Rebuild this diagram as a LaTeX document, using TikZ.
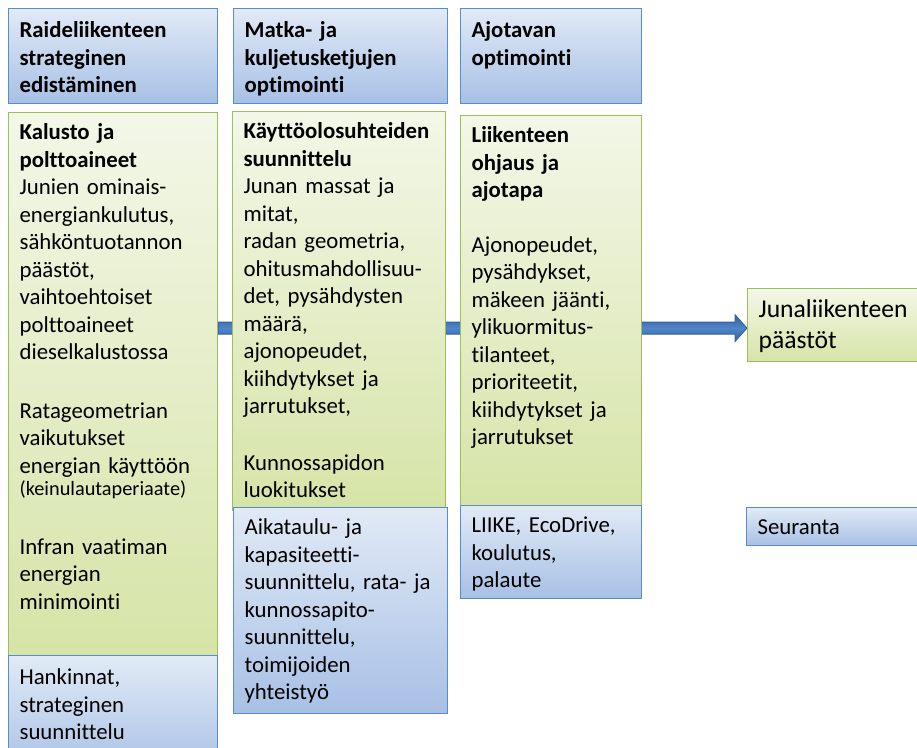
\documentclass[tikz,border=0pt]{standalone}
\usepackage{fontspec}
\setmainfont{Carlito}[Ligatures=NoCommon]
\usetikzlibrary{calc,backgrounds}

\definecolor{bluetop}{HTML}{E1EAF6}
\definecolor{bluebot}{HTML}{A7C0E5}
\definecolor{bluerim}{HTML}{5A8BCB}
\definecolor{greentop}{HTML}{F3F7E8}
\definecolor{greenbot}{HTML}{D6E4A7}
\definecolor{greenrim}{HTML}{9DBE5C}
\definecolor{arrowmid}{HTML}{4F84C8}
\definecolor{arrowedge}{HTML}{34619F}

\begin{document}
\begin{tikzpicture}[x=1pt,y=-1pt,
  box/.style={anchor=north west,align=left,inner xsep=11pt,inner ysep=0pt,
    line width=1.2pt,text height=27pt,font=\fontsize{22.8}{27.5}\selectfont},
  bluebox/.style={box,draw=bluerim,top color=bluetop,bottom color=bluebot},
  greenbox/.style={box,draw=greenrim,top color=greentop,bottom color=greenbot},
  headbox/.style={bluebox,text height=29pt,
    font=\fontsize{22.8}{27.5}\selectfont\bfseries},
  arrowbody/.style={draw=arrowedge,line width=0.8pt,top color=arrowedge,
    bottom color=arrowedge,middle color=arrowmid}]
  \useasboundingbox (0,0) rectangle (917,747);
  \clip (0,0) rectangle (917,747);

  % otsikot
  \node[headbox,text width=187pt,text depth=66pt] (h1) at (8,8)
    {Raideliikenteen\\strateginen\\edistäminen};
  \node[headbox,text width=192pt,text depth=66pt] (h2) at (233,8)
    {Matka- ja\\kuljetusketjujen\\optimointi};
  \node[headbox,text width=159pt,text depth=66pt] (h3) at (460,8)
    {Ajotavan\\optimointi};

  % tekijat
  \node[greenbox,text width=187pt,text depth=516pt] (g1) at (8,112)
    {{\bfseries Kalusto ja\\polttoaineet}\\
     Junien ominais-\\energiankulutus,\\sähköntuotannon\\päästöt,\\
     vaihtoehtoiset\\polttoaineet\\dieselkalustossa\\[31pt]
     Ratageometrian\\vaikutukset\\energian käyttöön\\[-5pt]
     {\fontsize{20.3}{22}\selectfont (keinulautaperiaate)}\\[31pt]
     Infran vaatiman\\energian\\minimointi};
  \node[greenbox,text width=191pt,text depth=372pt] (g2) at (232,111)
    {{\bfseries Käyttöolosuhteiden\\suunnittelu}\\
     Junan massat ja\\mitat,\\radan geometria,\\ohitusmahdollisuu-\\
     det, pysähdysten\\määrä,\\ajonopeudet,\\kiihdytykset ja\\
     jarrutukset,\\[29pt]
     Kunnossapidon\\luokitukset};
  \node[greenbox,text width=159pt,text depth=363pt] (g3) at (460,115)
    {{\bfseries Liikenteen\\ohjaus ja\\ajotapa}\\[27pt]
     Ajonopeudet,\\pysähdykset,\\mäkeen jäänti,\\ylikuormitus-\\
     tilanteet,\\prioriteetit,\\kiihdytykset ja\\jarrutukset};

  % keinot
  \node[bluebox,text width=187pt,text height=29pt,text depth=91pt] (b1) at (8,655)
    {Hankinnat,\\strateginen\\suunnittelu};
  \node[bluebox,text width=192pt,text depth=179pt] (b2) at (233,507)
    {Aikataulu- ja\\kapasiteetti-\\suunnittelu, rata- ja\\kunnossapito-\\
     suunnittelu,\\toimijoiden\\yhteistyö};
  \node[bluebox,text width=159pt,text depth=66pt] (b3) at (460,505)
    {LIIKE, EcoDrive,\\koulutus,\\palaute};

  % tulos
  \node[greenbox,text width=178pt,text height=29pt,text depth=44pt,
    font=\fontsize{25.6}{31}\selectfont] (out) at (747,288)
    {Junaliikenteen\\päästöt};
  \node[bluebox,text width=178pt,text depth=11pt] (seur) at (746,507)
    {Seuranta};

  % nuoli laatikoiden takana
  \begin{scope}[on background layer]
    \coordinate (s) at ($(g1.east |- out.west)+(0,3)$);
    \coordinate (t) at ($(out.west)+(0,3)$);
    \draw[arrowbody] ($(s)+(0,-6)$) -- ($(t)+(-12,-6)$) -- ($(t)+(-12,-13.5)$)
      -- (t) -- ($(t)+(-12,13.5)$) -- ($(t)+(-12,6)$) -- ($(s)+(0,6)$) -- cycle;
  \end{scope}
\end{tikzpicture}
\end{document}
